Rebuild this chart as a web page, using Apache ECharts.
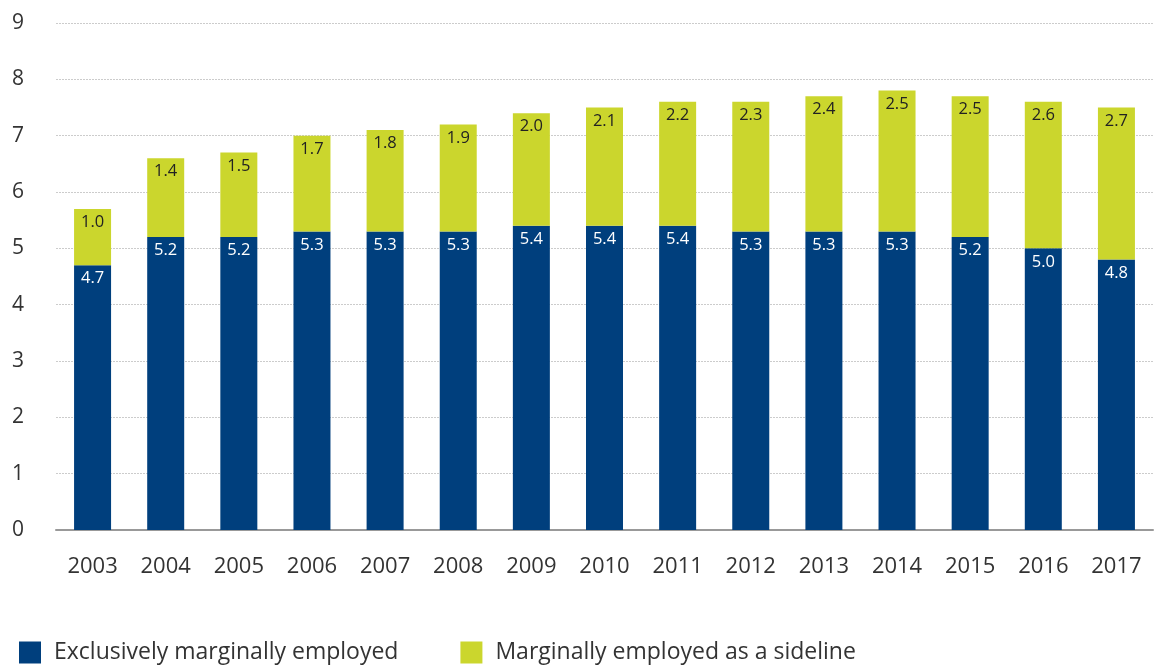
<!DOCTYPE html>
<html><head><meta charset="utf-8">
<script src="https://cdn.jsdelivr.net/npm/echarts@6/dist/echarts.min.js"></script>
<style>html,body{margin:0;padding:0;background:#fff}#c{width:1155px;height:668px}</style>
</head><body><div id="c"></div>
<script>
const years = ['2003','2004','2005','2006','2007','2008','2009','2010','2011','2012','2013','2014','2015','2016','2017'];
const exclusive = [4.7,5.2,5.2,5.3,5.3,5.3,5.4,5.4,5.4,5.3,5.3,5.3,5.2,5.0,4.8];
const sideline = [1.0,1.4,1.5,1.7,1.8,1.9,2.0,2.1,2.2,2.3,2.4,2.5,2.5,2.6,2.7];
const seriesNames = ['Exclusively marginally employed','Marginally employed as a sideline'];
const font = 'Open Sans';
const chart = echarts.init(document.getElementById('c'));
chart.setOption({
  animation:false,
  textStyle:{fontFamily:font},
  grid:{left:56,right:2,top:23,bottom:138},
  legend:{left:14,bottom:-1,itemWidth:22,itemHeight:22,itemGap:62,icon:'rect',
    textStyle:{fontSize:23,color:'#333',fontFamily:font,padding:[0,0,0,8]},
    data:seriesNames},
  xAxis:{type:'category',data:years,axisTick:{show:false},
    axisLine:{lineStyle:{color:'#999',width:2}},
    axisLabel:{fontSize:22,color:'#333',margin:26,fontFamily:font}},
  yAxis:{type:'value',min:0,max:9,interval:1,
    axisLabel:{fontSize:21,color:'#333',margin:38,fontFamily:font,align:'center'},
    splitLine:{lineStyle:{color:'#ccc',type:[2,1],width:1}}},
  series:[
    {name:seriesNames[0],type:'bar',stack:'a',data:exclusive,barWidth:37,
     itemStyle:{color:'#003f7d'},
     label:{show:true,position:'insideTop',distance:5,color:'#fff',fontSize:16.5,fontFamily:font,
       formatter:p=>p.value.toFixed(1)}},
    {name:seriesNames[1],type:'bar',stack:'a',data:sideline,barWidth:37,
     itemStyle:{color:'#cbd62d'},
     label:{show:true,position:'insideTop',distance:5,color:'#222',fontSize:16.5,fontFamily:font,
       formatter:p=>p.value.toFixed(1)}}
  ]
});
</script></body></html>
